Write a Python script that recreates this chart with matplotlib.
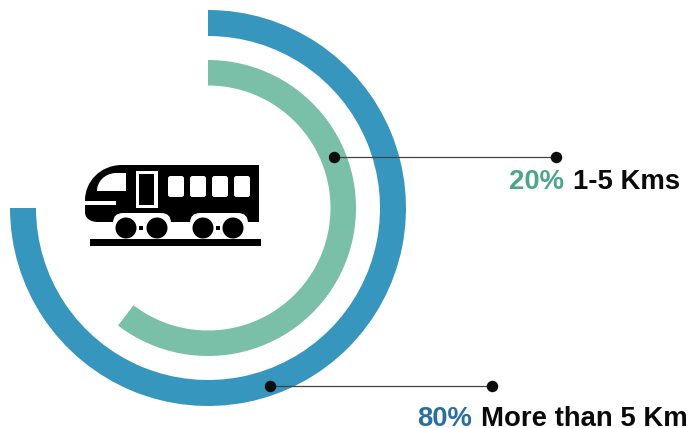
import numpy as np
import matplotlib
matplotlib.use("Agg")
import matplotlib.pyplot as plt
from matplotlib.patches import Circle, FancyBboxPatch, PathPatch, Rectangle
from matplotlib.path import Path

W, H = 691, 428

# Ring series: share of a full turn swept by each arc, plus its callout text
ring_names = ["More than 5 Km", "1-5 Kms"]
ring_labels = ["80%", "20%"]
ring_sweep = [0.75, 0.604]
ring_outer = [198, 148]
ring_width = [26, 25.5]
ring_colors = ["#3796be", "#7abfa8"]
label_colors = ["#2a6f9f", "#4fa58a"]

fig = plt.figure(figsize=(W / 100, H / 100), dpi=100, facecolor="white")
plt.rcParams["font.family"] = ["Liberation Sans", "DejaVu Sans"]

# Polar axes for the rings, 400 px across and centred on the icon
cx, cy, R = 208, 208, 200
polar = fig.add_axes([(cx - R) / W, (H - cy - R) / H, 2 * R / W, 2 * R / H],
                     projection="polar")
polar.set_theta_zero_location("N")
polar.set_theta_direction(-1)
polar.set_rlim(0, R)
polar.axis("off")
for sweep, outer, width, colour in zip(ring_sweep, ring_outer, ring_width, ring_colors):
    polar.bar(0, width, width=sweep * 2 * np.pi, bottom=outer - width,
              align="edge", color=colour, linewidth=0)

# Overlay in pixel units for callouts and the train icon
ov = fig.add_axes([0, 0, 1, 1])
ov.set_xlim(0, W)
ov.set_ylim(H, 0)
ov.axis("off")

# Callout leaders
leaders = [((270, 386), (492, 386)), ((334, 157), (556, 157))]
for (a, b) in leaders:
    ov.plot([a[0], b[0]], [a[1], b[1]], color="#444444", lw=0.9, zorder=3)
    ov.scatter([a[0], b[0]], [a[1], b[1]], s=68, color="#0d0d0d", linewidth=0, zorder=4)

# Callout text: coloured percentage followed by the black description
text_pos = [((417, 426), (481, 426)), ((509, 188.5), (573, 188.5))]
for (p1, p2), pct, name, colour in zip(text_pos, ring_labels, ring_names, label_colors):
    ov.text(p1[0], p1[1], pct, color=colour, fontsize=19.8, fontweight="bold",
            va="baseline", ha="left", clip_on=False)
    ov.text(p2[0], p2[1], name, color="#0a0a0a", fontsize=19.8, fontweight="bold",
            va="baseline", ha="left", clip_on=False)

# Train body with rounded nose
M, L, C = Path.MOVETO, Path.LINETO, Path.CURVE4
body = Path(
    [(259, 165), (122, 165), (100, 165), (85, 182), (85, 200), (85, 212),
     (85, 218), (90, 222), (98, 222), (259, 222), (259, 165)],
    [M, L, C, C, C, L, C, C, C, L, L],
)
ink = "#000000"
ov.add_patch(PathPatch(body, facecolor=ink, linewidth=0, zorder=5))

# Wheel arches
for x0, x1 in [(113, 171), (190, 248)]:
    ov.add_patch(FancyBboxPatch((x0, 213), x1 - x0, 24,
                                boxstyle="round,pad=0,rounding_size=10",
                                facecolor="white", linewidth=0, zorder=6))

# Windows
for x0 in [168, 190, 212, 234]:
    ov.add_patch(FancyBboxPatch((x0, 176), 16, 21, boxstyle="round,pad=0,rounding_size=2.5",
                                facecolor="white", linewidth=0, zorder=6))

# Door
ov.add_patch(Rectangle((136, 171), 22, 37, facecolor="white", linewidth=0, zorder=6))
ov.add_patch(Rectangle((139, 174), 15, 31, facecolor=ink, linewidth=0, zorder=7))

# Cab window and nose stripe
cab = Path([(97, 191), (126, 191), (126, 173), (115, 173), (104, 174), (97, 182), (97, 191)],
           [M, L, L, L, C, C, C])
ov.add_patch(PathPatch(cab, facecolor="white", linewidth=0, zorder=6))
ov.add_patch(Rectangle((85, 201), 31, 4, facecolor="white", linewidth=0, zorder=6))

# Wheels, couplings and rail
for x in [126, 157, 203, 233]:
    ov.add_patch(Circle((x, 228), 10.5, facecolor=ink, linewidth=0, zorder=8))
for x in [141, 218]:
    ov.add_patch(Rectangle((x - 2, 226), 4, 4, facecolor=ink, linewidth=0, zorder=8))
ov.add_patch(Rectangle((90, 239), 171, 7, facecolor=ink, linewidth=0, zorder=8))

fig.savefig("out.png", dpi=100, facecolor="white")
